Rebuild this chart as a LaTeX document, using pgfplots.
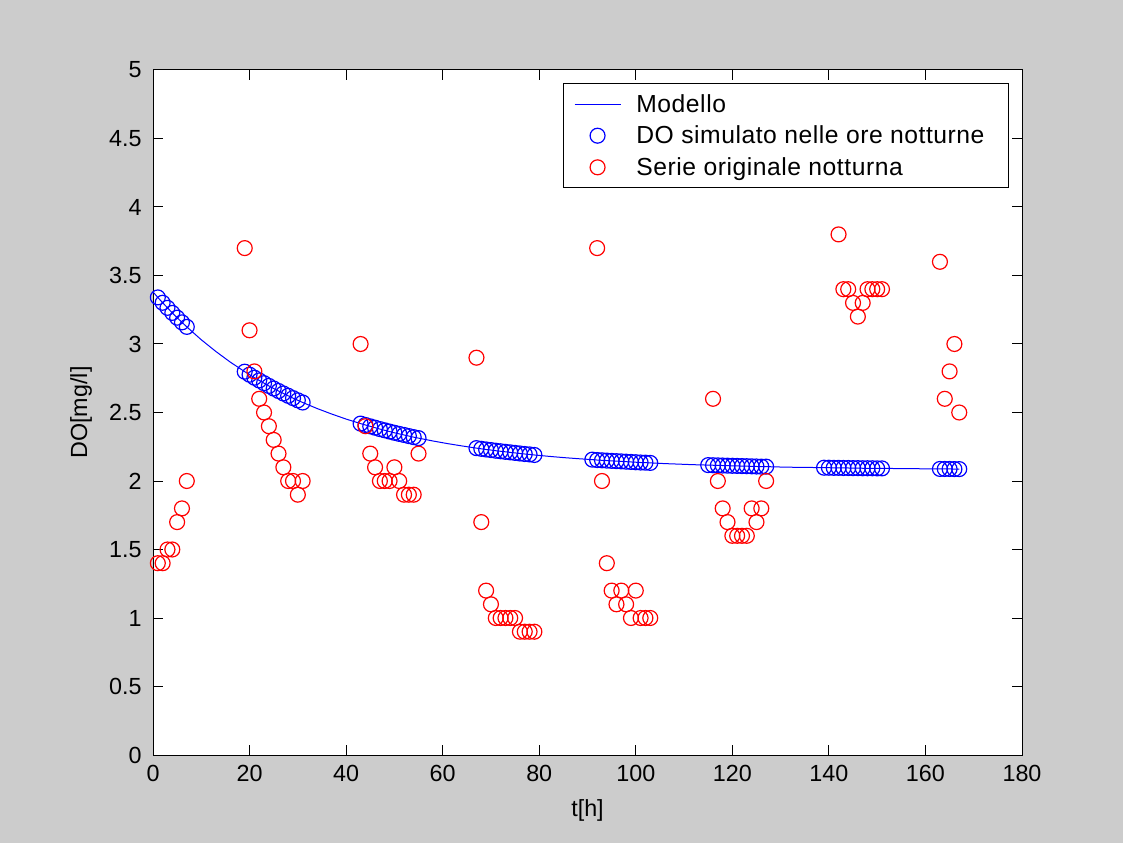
\documentclass[border=0pt]{standalone}
\usepackage{pgfplots}
\pgfplotsset{compat=1.18}
\usepackage{fontspec}
\setmainfont{Liberation Sans}
\definecolor{figbg}{RGB}{204,204,204}
\definecolor{mblue}{RGB}{0,0,255}
\definecolor{mred}{RGB}{255,0,0}
\newcommand{\f}{\fontsize{17.5}{20}\selectfont}
\newcommand{\lf}{\fontsize{18.5}{21}\selectfont\addfontfeature{LetterSpace=2.2}}
\begin{document}
\begin{tikzpicture}[x=1pt,y=1pt]
\fill[figbg] (0,0) rectangle (842.25,632.25);
\useasboundingbox (0,0) rectangle (842.25,632.25);
\begin{axis}[
  at={(114.75pt,66pt)}, anchor=south west,
  scale only axis, width=651.75pt, height=513.75pt,
  xmin=0, xmax=180, ymin=0, ymax=5,
  xtick={0,20,...,180}, ytick={0,0.5,1,1.5,2,2.5,3,3.5,4,4.5,5},
  yticklabels={0,0.5,1,1.5,2,2.5,3,3.5,4,4.5,5},
  tick align=inside, xtick pos=both, ytick pos=both,
  major tick length=7.5pt,
  axis background/.style={fill=white},
  axis line style={line width=0.75pt},
  tick style={black, line width=0.75pt},
  ticklabel style={font=\f},
  xticklabel style={yshift=-4pt},
  yticklabel style={xshift=-5pt},
  /pgf/number format/assume math mode=true,
  label style={font=\f},
  xlabel={t[h]}, ylabel={DO[mg/l]},
  xlabel style={yshift=-7pt},
  ylabel style={yshift=6pt},
  legend style={at={(axis description cs:1,1)}, anchor=north east,
    xshift=-9.75pt, yshift=-9.75pt, draw=black, line width=0.75pt, fill=white,
    font=\lf, row sep=4.8pt, inner xsep=8pt, inner ysep=6pt},
  legend cell align=left,
  legend image code/.code={\draw[mark repeat=2,mark phase=2] plot coordinates {(0pt,0pt) (17.25pt,0pt) (34.5pt,0pt)}; \path (44pt,0pt);},
]
\addplot[mblue, line width=0.75pt, mark=none] coordinates {
(0,3.380)(1,3.340)(2,3.301)(3,3.264)(4,3.227)(5,3.192)(6,3.158)(7,3.125)
(10,3.031)(13,2.946)(16,2.868)
(19,2.798)(20,2.776)(21,2.754)(22,2.734)(23,2.714)(24,2.694)(25,2.675)(26,2.657)(27,2.639)(28,2.622)(29,2.605)(30,2.589)(31,2.573)
(34,2.529)(37,2.489)(40,2.452)
(43,2.419)(44,2.409)(45,2.399)(46,2.389)(47,2.379)(48,2.370)(49,2.361)(50,2.352)(51,2.344)(52,2.336)(53,2.328)(54,2.320)(55,2.313)
(58,2.292)(61,2.273)(64,2.256)
(67,2.240)(68,2.235)(69,2.230)(70,2.226)(71,2.221)(72,2.217)(73,2.213)(74,2.209)(75,2.205)(76,2.201)(77,2.197)(78,2.194)(79,2.190)
(82,2.180)(85,2.171)(88,2.163)
(91,2.156)(92,2.153)(93,2.151)(94,2.149)(95,2.147)(96,2.145)(97,2.143)(98,2.141)(99,2.139)(100,2.137)(101,2.135)(102,2.134)(103,2.132)
(106,2.127)(109,2.123)(112,2.119)
(115,2.116)(116,2.115)(117,2.114)(118,2.113)(119,2.112)(120,2.111)(121,2.110)(122,2.109)(123,2.108)(124,2.107)(125,2.106)(126,2.105)(127,2.105)
(130,2.102)(133,2.100)(136,2.099)
(139,2.097)(140,2.097)(141,2.096)(142,2.096)(143,2.095)(144,2.095)(145,2.094)(146,2.094)(147,2.093)(148,2.093)(149,2.093)(150,2.092)(151,2.092)
(154,2.091)(157,2.090)(160,2.089)
(163,2.088)(164,2.088)(165,2.088)(166,2.087)(167,2.087)
};
\addlegendentry{Modello}
\addplot[mblue, only marks, mark=o, mark size=5.6pt, mark options={line width=0.9pt}] coordinates {
(1,3.340)(2,3.301)(3,3.264)(4,3.227)(5,3.192)(6,3.158)(7,3.125)
(19,2.798)(20,2.776)(21,2.754)(22,2.734)(23,2.714)(24,2.694)(25,2.675)(26,2.657)(27,2.639)(28,2.622)(29,2.605)(30,2.589)(31,2.573)
(43,2.419)(44,2.409)(45,2.399)(46,2.389)(47,2.379)(48,2.370)(49,2.361)(50,2.352)(51,2.344)(52,2.336)(53,2.328)(54,2.320)(55,2.313)
(67,2.240)(68,2.235)(69,2.230)(70,2.226)(71,2.221)(72,2.217)(73,2.213)(74,2.209)(75,2.205)(76,2.201)(77,2.197)(78,2.194)(79,2.190)
(91,2.156)(92,2.153)(93,2.151)(94,2.149)(95,2.147)(96,2.145)(97,2.143)(98,2.141)(99,2.139)(100,2.137)(101,2.135)(102,2.134)(103,2.132)
(115,2.116)(116,2.115)(117,2.114)(118,2.113)(119,2.112)(120,2.111)(121,2.110)(122,2.109)(123,2.108)(124,2.107)(125,2.106)(126,2.105)(127,2.105)
(139,2.097)(140,2.097)(141,2.096)(142,2.096)(143,2.095)(144,2.095)(145,2.094)(146,2.094)(147,2.093)(148,2.093)(149,2.093)(150,2.092)(151,2.092)
(163,2.088)(164,2.088)(165,2.088)(166,2.087)(167,2.087)
};
\addlegendentry{DO simulato nelle ore notturne\hspace*{8pt}}
\addplot[mred, only marks, mark=o, mark size=5.6pt, mark options={line width=0.9pt}] coordinates {
(1,1.4)(2,1.4)(3,1.5)(4,1.5)(5,1.7)(6,1.8)(7,2.0)
(19,3.7)(20,3.1)(21,2.8)(22,2.6)(23,2.5)(24,2.4)(25,2.3)(26,2.2)(27,2.1)(28,2.0)(29,2.0)(30,1.9)(31,2.0)
(43,3.0)(44,2.4)(45,2.2)(46,2.1)(47,2.0)(48,2.0)(49,2.0)(50,2.1)(51,2.0)(52,1.9)(53,1.9)(54,1.9)(55,2.2)
(67,2.9)(68,1.7)(69,1.2)(70,1.1)(71,1.0)(72,1.0)(73,1.0)(74,1.0)(75,1.0)(76,0.9)(77,0.9)(78,0.9)(79,0.9)
(92,3.7)(93,2.0)(94,1.4)(95,1.2)(96,1.1)(97,1.2)(98,1.1)(99,1.0)(100,1.2)(101,1.0)(102,1.0)(103,1.0)
(116,2.6)(117,2.0)(118,1.8)(119,1.7)(120,1.6)(121,1.6)(122,1.6)(123,1.6)(124,1.8)(125,1.7)(126,1.8)(127,2.0)
(142,3.8)(143,3.4)(144,3.4)(145,3.3)(146,3.2)(147,3.3)(148,3.4)(149,3.4)(150,3.4)(151,3.4)
(163,3.6)(164,2.6)(165,2.8)(166,3.0)(167,2.5)
};
\addlegendentry{Serie originale notturna}
\end{axis}
\end{tikzpicture}
\end{document}
